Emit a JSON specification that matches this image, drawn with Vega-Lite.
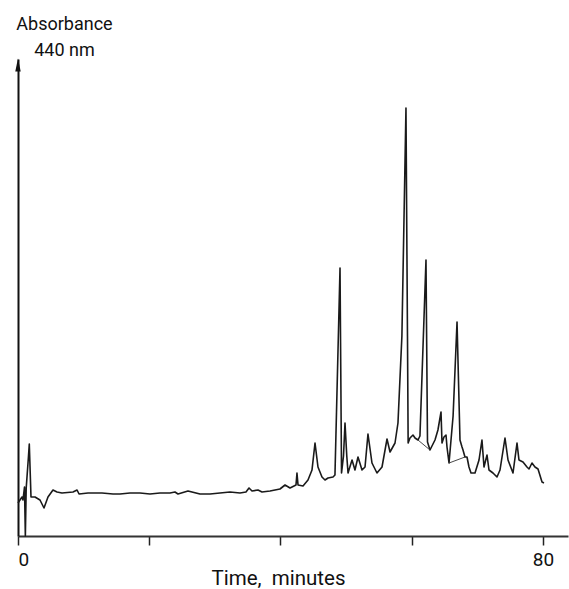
{
  "$schema": "https://vega.github.io/schema/vega-lite/v6.json",
  "width": 550,
  "height": 477,
  "autosize": "none",
  "padding": {"left": 18, "top": 59, "right": 1, "bottom": 53},
  "background": "white",
  "config": {"view": {"stroke": null}, "font": "Roboto"},
  "layer": [
    {
      "data": {"values": [
        {"t": 0, "a": 33}, {"t": 0.3, "a": 36}, {"t": 0.61, "a": 39}, {"t": 0.76, "a": 36}, {"t": 0.99, "a": 49},
        {"t": 1.12, "a": 0}, {"t": 1.25, "a": 48}, {"t": 1.6, "a": 80}, {"t": 1.72, "a": 92}, {"t": 1.98, "a": 39},
        {"t": 2.59, "a": 39}, {"t": 3.35, "a": 36}, {"t": 3.96, "a": 28}, {"t": 4.57, "a": 39}, {"t": 5.33, "a": 46},
        {"t": 5.94, "a": 44}, {"t": 6.7, "a": 43}, {"t": 8.38, "a": 44}, {"t": 9.0, "a": 46}, {"t": 9.3, "a": 42},
        {"t": 10.67, "a": 43}, {"t": 12.8, "a": 43}, {"t": 14.48, "a": 42}, {"t": 15.54, "a": 42}, {"t": 17.07, "a": 43},
        {"t": 18.59, "a": 43}, {"t": 20.11, "a": 42}, {"t": 21.64, "a": 43}, {"t": 23.16, "a": 43}, {"t": 23.92, "a": 44},
        {"t": 24.38, "a": 42}, {"t": 25.9, "a": 45}, {"t": 27.73, "a": 42}, {"t": 29.26, "a": 42}, {"t": 30.78, "a": 43},
        {"t": 32.3, "a": 44}, {"t": 33.83, "a": 43}, {"t": 34.74, "a": 44}, {"t": 35.2, "a": 48}, {"t": 35.66, "a": 45},
        {"t": 36.57, "a": 46}, {"t": 37.18, "a": 44}, {"t": 38.4, "a": 45}, {"t": 39.92, "a": 47}, {"t": 40.69, "a": 51},
        {"t": 41.45, "a": 48}, {"t": 42.36, "a": 51}, {"t": 42.51, "a": 63}, {"t": 42.67, "a": 51}, {"t": 43.43, "a": 50},
        {"t": 44.19, "a": 56}, {"t": 44.8, "a": 66}, {"t": 45.26, "a": 93}, {"t": 45.71, "a": 69}, {"t": 46.32, "a": 59},
        {"t": 46.78, "a": 56}, {"t": 47.24, "a": 58}, {"t": 48.0, "a": 59}, {"t": 48.3, "a": 61}, {"t": 49.07, "a": 268},
        {"t": 49.3, "a": 63}, {"t": 49.6, "a": 80}, {"t": 49.83, "a": 113}, {"t": 50.1, "a": 80}, {"t": 50.29, "a": 63},
        {"t": 50.9, "a": 76}, {"t": 51.35, "a": 66}, {"t": 51.81, "a": 79}, {"t": 52.42, "a": 66}, {"t": 52.88, "a": 69},
        {"t": 53.33, "a": 102}, {"t": 53.94, "a": 73}, {"t": 54.7, "a": 63}, {"t": 55.47, "a": 69}, {"t": 56.23, "a": 97},
        {"t": 56.69, "a": 84}, {"t": 57.45, "a": 93}, {"t": 57.9, "a": 113}, {"t": 58.5, "a": 200}, {"t": 59.12, "a": 428},
        {"t": 59.35, "a": 200}, {"t": 59.45, "a": 93}, {"t": 59.73, "a": 98}, {"t": 60.19, "a": 101}, {"t": 60.5, "a": 98},
        {"t": 60.95, "a": 96}, {"t": 61.25, "a": 100}, {"t": 62.17, "a": 276}, {"t": 62.4, "a": 94}, {"t": 62.78, "a": 86},
        {"t": 63.54, "a": 96}, {"t": 63.99, "a": 106}, {"t": 64.46, "a": 124}, {"t": 64.61, "a": 93}, {"t": 64.91, "a": 99},
        {"t": 65.22, "a": 101}, {"t": 65.37, "a": 89}, {"t": 65.68, "a": 73}, {"t": 66.3, "a": 120}, {"t": 66.9, "a": 214},
        {"t": 67.35, "a": 96}, {"t": 67.66, "a": 89}, {"t": 67.81, "a": 86}, {"t": 68.11, "a": 79}, {"t": 68.42, "a": 79},
        {"t": 68.72, "a": 69}, {"t": 69.03, "a": 63}, {"t": 69.64, "a": 63}, {"t": 70.25, "a": 76}, {"t": 70.7, "a": 96},
        {"t": 71.01, "a": 69}, {"t": 71.47, "a": 81}, {"t": 71.77, "a": 66}, {"t": 72.38, "a": 63}, {"t": 72.99, "a": 59},
        {"t": 73.45, "a": 66}, {"t": 74.21, "a": 98}, {"t": 74.67, "a": 76}, {"t": 75.43, "a": 63}, {"t": 76.04, "a": 93},
        {"t": 76.34, "a": 76}, {"t": 76.95, "a": 74}, {"t": 77.56, "a": 69}, {"t": 77.87, "a": 67}, {"t": 78.32, "a": 73},
        {"t": 78.78, "a": 69}, {"t": 79.24, "a": 67}, {"t": 79.85, "a": 54}, {"t": 80.15, "a": 53}
      ]},
      "mark": {"type": "line", "color": "#1a1a1a", "strokeWidth": 1.6, "strokeJoin": "round"},
      "encoding": {
        "x": {
          "field": "t", "type": "quantitative",
          "scale": {"domain": [0, 83.81], "nice": false, "zero": false},
          "axis": {
            "values": [0, 20, 40, 60, 80],
            "labelExpr": "datum.value == 0 || datum.value == 80 ? datum.label : ''",
            "grid": false,
            "domainColor": "#333", "domainWidth": 2,
            "tickColor": "#222", "tickWidth": 1.5, "tickSize": 9,
            "labelFontSize": 19, "labelPadding": 5, "labelColor": "#111",
            "title": "Time,\u00a0\u00a0minutes",
            "titleFontSize": 20.5, "titleFontWeight": "normal", "titleColor": "#111",
            "titleX": 260, "titleY": 48, "titleAlign": "center", "titleBaseline": "alphabetic"
          }
        },
        "y": {
          "field": "a", "type": "quantitative",
          "scale": {"domain": [0, 477], "nice": false, "zero": true},
          "axis": {
            "domain": true, "domainColor": "#111", "domainWidth": 2,
            "ticks": false, "labels": false, "grid": false,
            "title": ["Absorbance", "\u00a0\u00a0440 nm"],
            "titleAngle": 0, "titleX": 46, "titleY": -30,
            "titleAlign": "center", "titleBaseline": "alphabetic",
            "titleFontSize": 18, "titleLineHeight": 26, "titleFontWeight": "normal", "titleColor": "#111"
          }
        }
      }
    },
    {
      "data": {"values": [
        {"seg": 1, "t": 60.95, "a": 96}, {"seg": 1, "t": 62.78, "a": 86},
        {"seg": 2, "t": 65.68, "a": 73}, {"seg": 2, "t": 68.11, "a": 79}
      ]},
      "mark": {"type": "line", "color": "#333", "strokeWidth": 0.9},
      "encoding": {
        "x": {"field": "t", "type": "quantitative"},
        "y": {"field": "a", "type": "quantitative"},
        "detail": {"field": "seg"}
      }
    },
    {
      "data": {"values": [{}]},
      "mark": {"type": "point", "shape": "M0,-1L0.42,1L-0.42,1Z", "size": 169, "filled": true, "color": "#111", "opacity": 1, "strokeWidth": 0},
      "encoding": {
        "x": {"datum": 0, "type": "quantitative"},
        "y": {"datum": 471, "type": "quantitative"}
      }
    }
  ]
}
